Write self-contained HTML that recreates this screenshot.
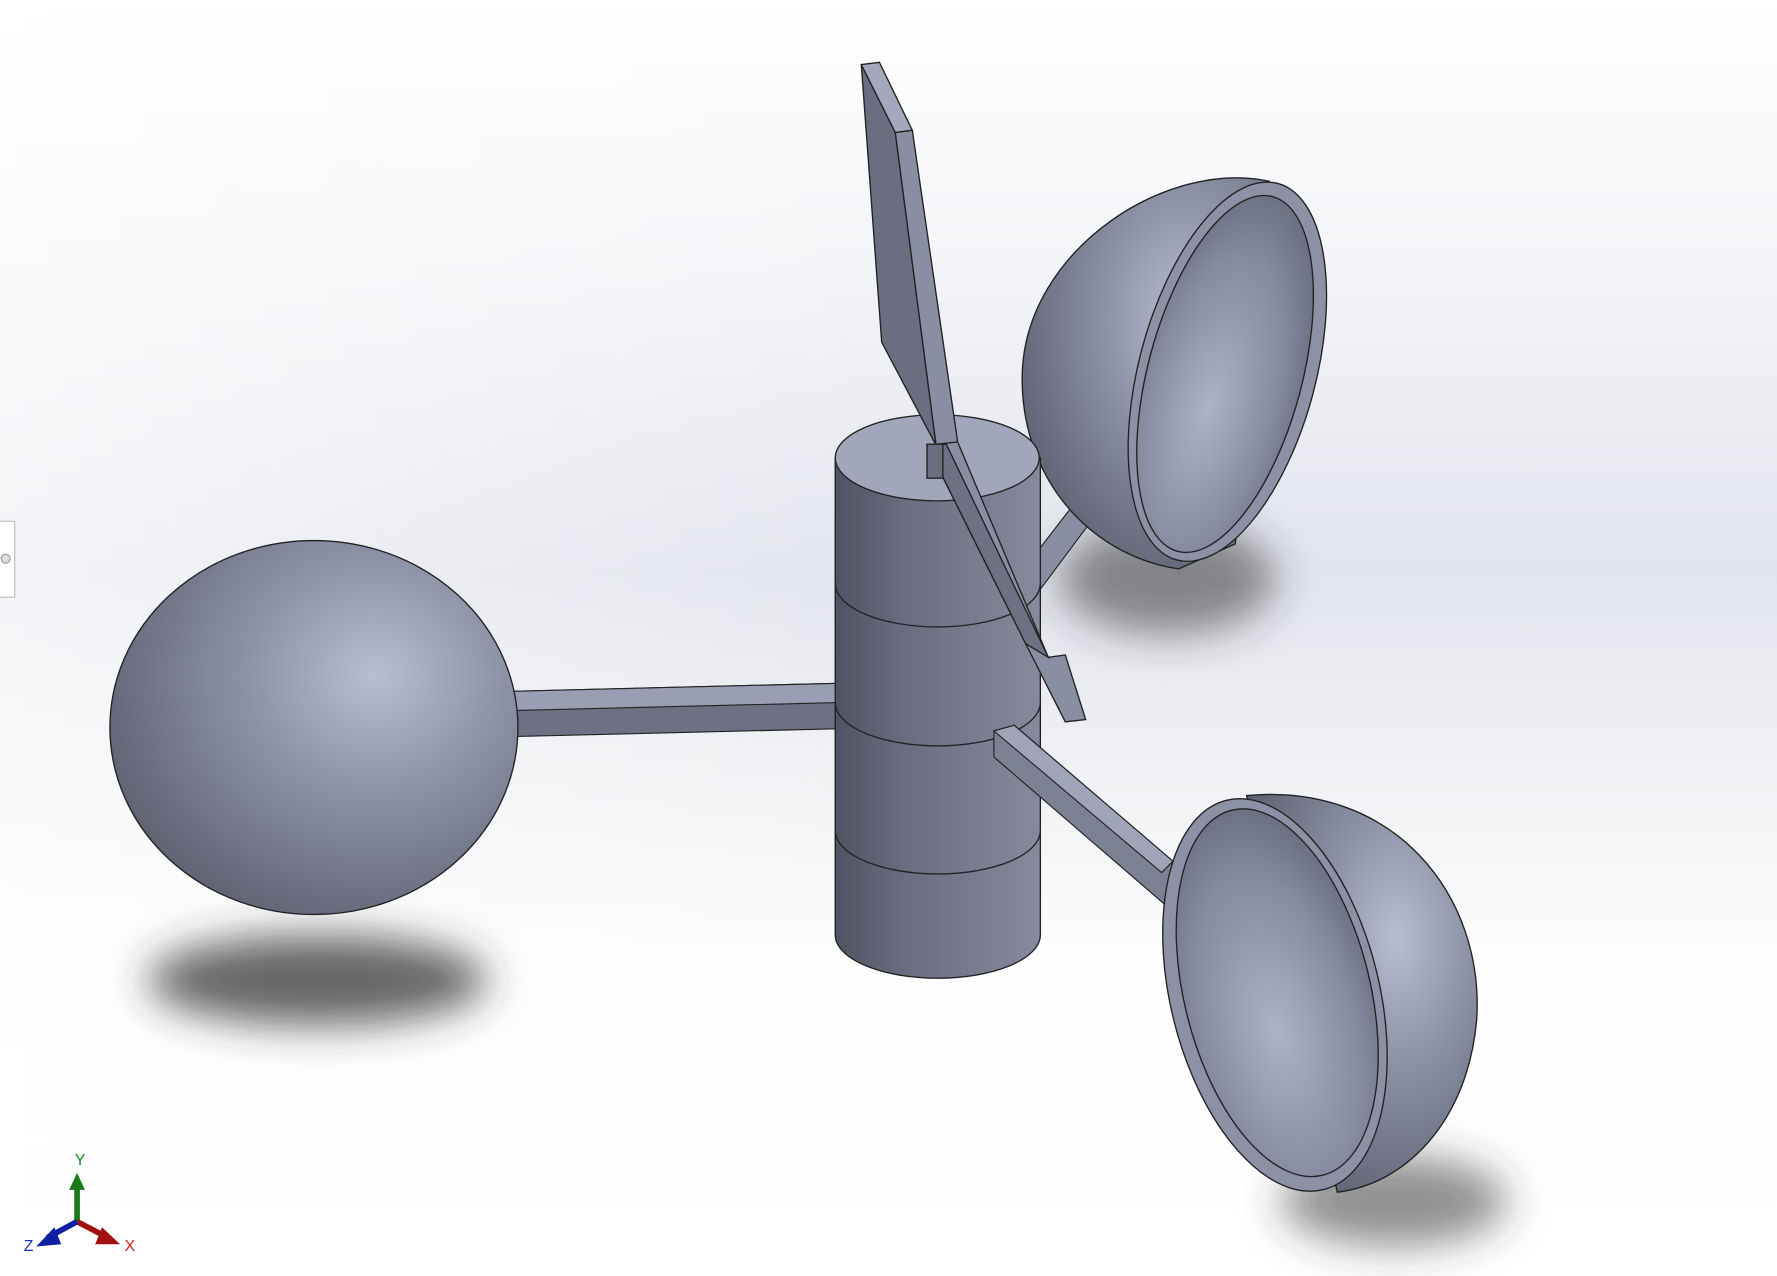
<!DOCTYPE html>
<html><head><meta charset="utf-8"><style>
html,body{margin:0;padding:0;width:1777px;height:1276px;overflow:hidden;background:#fff}
svg{display:block}
</style></head><body>
<svg width="1777" height="1276" viewBox="0 0 1568 1126" preserveAspectRatio="none" xmlns="http://www.w3.org/2000/svg" font-family="Liberation Sans, sans-serif">
<defs>
<linearGradient id="bg" x1="0" y1="0" x2="0" y2="1">
<stop offset="0" stop-color="#ffffff"/><stop offset="0.2" stop-color="#f4f5f8"/>
<stop offset="0.45" stop-color="#e2e4ec"/><stop offset="0.6" stop-color="#f0f1f4"/>
<stop offset="0.75" stop-color="#fdfdfd"/><stop offset="1" stop-color="#ffffff"/></linearGradient>
<linearGradient id="bgl" x1="0" y1="0" x2="1" y2="0">
<stop offset="0" stop-color="#fff" stop-opacity="0.6"/><stop offset="0.5" stop-color="#fff" stop-opacity="0"/></linearGradient>
<radialGradient id="sph" cx="0.65" cy="0.36" r="0.75">
<stop offset="0" stop-color="#b8bdd2"/><stop offset="0.45" stop-color="#8a8fa3"/><stop offset="1" stop-color="#5a5e6e"/></radialGradient>
<radialGradient id="inner" cx="0.45" cy="0.6" r="0.7">
<stop offset="0" stop-color="#aeb2c6"/><stop offset="0.6" stop-color="#858a9e"/><stop offset="1" stop-color="#5f6375"/></radialGradient>
<linearGradient id="cyl" x1="0" y1="0" x2="1" y2="0">
<stop offset="0" stop-color="#4f5363"/><stop offset="0.35" stop-color="#6a6e80"/><stop offset="1" stop-color="#868a9c"/></linearGradient>
<filter id="blur"><feGaussianBlur stdDeviation="18"/></filter>
</defs>
<rect width="1568" height="1126" fill="url(#bg)"/>
<rect width="1568" height="1126" fill="url(#bgl)"/>
<!-- shadows -->
<g filter="url(#blur)" fill="#333">
<ellipse cx="280" cy="865" rx="150" ry="40" opacity="0.75"/>
<ellipse cx="1030" cy="510" rx="95" ry="50" opacity="0.55"/>
<ellipse cx="1230" cy="1060" rx="100" ry="40" opacity="0.55"/>
</g>
<!-- left arm -->
<g stroke="#222" stroke-width="1">
<polygon points="452,610 740,603 742,643 452,650" fill="#6d7183"/>
<polygon points="452,610 740,603 740,620 452,627" fill="#9a9eb2"/>
</g>
<!-- left cup -->
<ellipse cx="277" cy="642" rx="180" ry="165" fill="url(#sph)" stroke="#222" stroke-width="1.2"/>
<!-- upper-right arm -->
<g stroke="#222" stroke-width="1">
<polygon points="905,500 980,403 1000,410 918,520" fill="#8a8ea2"/>
</g>
<!-- upper-right cup -->
<g stroke="#222" stroke-width="1.2">
<path d="M1120,160 C1030,140 905,220 902,330 C900,420 960,490 1040,502 L1090,480 Z" fill="url(#sph)"/>
<ellipse cx="1083" cy="328" rx="78" ry="172" transform="rotate(15 1083 328)" fill="#8d91a5"/>
<ellipse cx="1081" cy="330" rx="68" ry="162" transform="rotate(15 1081 330)" fill="url(#inner)"/>
</g>
<!-- cylinder -->
<g stroke="#222" stroke-width="1.2">
<path d="M737,404 L737,825 A90,38 0 0 0 918,825 L918,404 Z" fill="url(#cyl)"/>
<path d="M737,515 A90,38 0 0 0 918,515" fill="none"/>
<path d="M737,620 A90,38 0 0 0 918,620" fill="none"/>
<path d="M737,733 A90,38 0 0 0 918,733" fill="none"/>
<ellipse cx="827" cy="404" rx="90" ry="38" fill="#a2a6ba"/>
</g>
<!-- lower-right arm -->
<g stroke="#222" stroke-width="1">
<polygon points="877,645 895,640 1035,760 1030,800 877,668" fill="#7d8194"/>
<polygon points="877,645 895,640 1035,760 1025,770" fill="#a0a4b8"/>
</g>
<!-- lower-right cup -->
<g stroke="#222" stroke-width="1.2">
<path d="M1100,702 C1230,690 1310,790 1303,900 C1295,990 1240,1045 1180,1052 Z" fill="url(#sph)"/>
<ellipse cx="1125" cy="878" rx="92" ry="177" transform="rotate(-14 1125 878)" fill="#8d91a5"/>
<ellipse cx="1127" cy="876" rx="82" ry="166" transform="rotate(-14 1127 876)" fill="url(#inner)"/>
</g>
<!-- vane -->
<g stroke="#222" stroke-width="1.2">
<polygon points="760,57 790,117 826,393 778,302" fill="#6a6e80"/>
<polygon points="760,57 776,55 805,115 790,117" fill="#a4a8bc"/>
<polygon points="790,117 805,115 845,390 826,393" fill="#8a8ea2"/>
<polygon points="818,393 845,390 925,580 940,578 958,635 940,637 905,568" fill="#8a8ea2"/>
<polygon points="818,393 835,392 925,580 905,568" fill="#6d7183"/>
<polygon points="818,392 832,392 832,422 818,422" fill="#6a6e80"/>
</g>
<!-- left edge widget -->
<g>
<rect x="-1" y="460" width="14" height="67" fill="#fff" stroke="#bbb"/>
<circle cx="5" cy="493" r="4" fill="#ddd" stroke="#999"/>
</g>
<!-- triad -->
<g font-size="14">
<line x1="68" y1="1078" x2="68" y2="1045" stroke="#1a7a1a" stroke-width="5"/>
<polygon points="61,1050 75,1050 68,1035" fill="#1a7a1a"/>
<line x1="68" y1="1078" x2="95" y2="1092" stroke="#a01010" stroke-width="5"/>
<polygon points="90,1083 106,1098 84,1098" fill="#a01010"/>
<line x1="68" y1="1078" x2="42" y2="1092" stroke="#1020a0" stroke-width="5"/>
<polygon points="48,1083 32,1100 54,1098" fill="#1020a0"/>
<text x="66" y="1028" fill="#1a8a1a">Y</text>
<text x="110" y="1104" fill="#d02020">X</text>
<text x="21" y="1104" fill="#2030c0">Z</text>
</g>
</svg>
</body></html>
